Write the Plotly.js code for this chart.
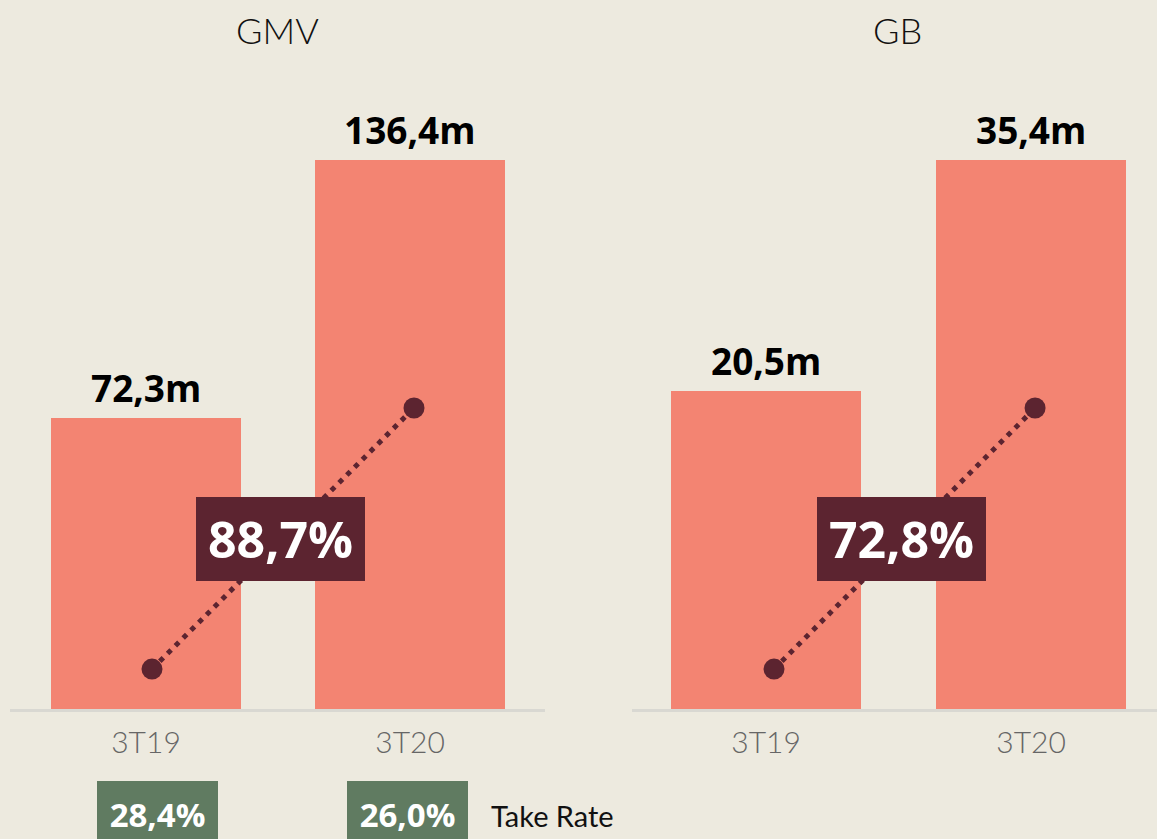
<!DOCTYPE html>
<html>
<head>
<meta charset="utf-8">
<script src="https://cdn.plot.ly/plotly-3.0.1.min.js"></script>
<style>html,body{margin:0;padding:0;background:#edeadf;}#chart{width:1157px;height:839px;}</style>
</head>
<body>
<div id="chart"></div>
<script>
// ---- data ----
const categories = ['3T19', '3T20'];
const gmvValues = [72.3, 136.4];
const gbValues = [20.5, 35.4];
const growthLabels = ['88,7%', '72,8%'];   // GMV growth, GB growth
const takeRateLabels = ['28,4%', '26,0%'];
const trendValues = [0, 1];                 // decorative growth line (start, end)
const panelTitles = ['GMV', 'GB'];

// ---- styles ----
const BG = '#edeadf';
const BAR = '#f38472';
const DARK = '#5c2430';
const GREEN = '#607b61';
const W = 1157, H = 839;
const py = v => (H - v) / H;   // pixel y -> paper
const px = v => v / W;         // pixel x -> paper
const boldFont = {family: 'Open Sans, Arial, sans-serif', weight: 700};
const lightFont = 'Lato, Open Sans, sans-serif';

const yDomain = [py(709), py(60)];

const traces = [
  {type: 'bar', x: categories, y: gmvValues, xaxis: 'x', yaxis: 'y',
   marker: {color: BAR}, width: 0.72, hoverinfo: 'skip'},
  {type: 'bar', x: categories, y: gbValues, xaxis: 'x2', yaxis: 'y2',
   marker: {color: BAR}, width: 0.717, hoverinfo: 'skip'},
  {type: 'scatter', mode: 'lines+markers', x: categories, y: trendValues, xaxis: 'x3', yaxis: 'y3',
   line: {color: DARK, width: 5, dash: '5px,6px'}, marker: {color: DARK, size: 21}, hoverinfo: 'skip'},
  {type: 'scatter', mode: 'lines+markers', x: categories, y: trendValues, xaxis: 'x4', yaxis: 'y4',
   line: {color: DARK, width: 5, dash: '5px,6px'}, marker: {color: DARK, size: 21}, hoverinfo: 'skip'}
];

const catAxis = (domain, range) => ({
  domain: domain, range: range, type: 'category', categoryarray: categories,
  showline: true, linecolor: '#d9d8d2', linewidth: 3, showgrid: false, zeroline: false,
  ticks: '', ticklabelstandoff: 5,
  tickfont: {family: lightFont, size: 30, color: '#666666', weight: 300},
  fixedrange: true
});
const hiddenCat = (over, domain, range, anchor) => ({
  overlaying: over, anchor: anchor, domain: domain, range: range, type: 'category',
  categoryarray: categories, visible: false, fixedrange: true
});
const valAxis = (domain, range, anchor) => ({
  domain: domain, range: range, anchor: anchor, visible: false, showgrid: false,
  zeroline: false, fixedrange: true
});

const leftDomain = [px(10), px(545)];
const rightDomain = [px(632), 1];

const annotations = [];
// panel titles
[[panelTitles[0], 277.5], [panelTitles[1], 897]].forEach(([t, cx]) => {
  annotations.push({text: t, xref: 'paper', yref: 'paper', x: px(cx), y: py(30),
    xanchor: 'center', yanchor: 'middle', showarrow: false,
    font: {family: lightFont, size: 36, color: '#111111', weight: 300}});
});
// bar value labels
[[gmvValues, 'x', 'y'], [gbValues, 'x2', 'y2']].forEach(([vals, xr, yr]) => {
  vals.forEach((v, i) => {
    annotations.push({text: v.toFixed(1).replace('.', ',') + 'm', xref: xr, yref: yr,
      x: categories[i], y: v, xanchor: 'center', yanchor: 'bottom', yshift: 3, showarrow: false,
      font: Object.assign({size: 37, color: '#000000'}, boldFont)});
  });
});
// growth boxes
[['x', 0.51], ['x2', 0.51]].forEach(([xr, xv], i) => {
  annotations.push({text: growthLabels[i], xref: xr, yref: 'paper', x: xv, y: py(539),
    xanchor: 'center', yanchor: 'middle', showarrow: false, width: 169, height: 84,
    bgcolor: DARK, borderpad: 0, borderwidth: 0,
    font: Object.assign({size: 50, color: '#ffffff'}, boldFont)});
});
// take rate boxes
[157.5, 407.5].forEach((cx, i) => {
  annotations.push({text: takeRateLabels[i], xref: 'paper', yref: 'paper', x: px(cx), y: py(781),
    xanchor: 'center', yanchor: 'top', showarrow: false, width: 121, height: 66,
    bgcolor: GREEN, borderpad: 0, borderwidth: 0,
    font: Object.assign({size: 33, color: '#ffffff'}, boldFont)});
});
annotations.push({text: 'Take Rate', xref: 'paper', yref: 'paper', x: px(489), y: py(815),
  xanchor: 'left', yanchor: 'middle', showarrow: false,
  font: {family: lightFont, size: 29, color: '#111111'}});

const layout = {
  width: W, height: H,
  margin: {l: 0, r: 0, t: 0, b: 0, pad: 0},
  paper_bgcolor: BG, plot_bgcolor: 'rgba(0,0,0,0)',
  showlegend: false, separators: ', ',
  bargap: 0,
  xaxis: Object.assign(catAxis(leftDomain, [-0.515, 1.511]), {anchor: 'y'}),
  yaxis: valAxis(yDomain, [0, 649 / 4.025], 'x'),
  xaxis2: Object.assign(catAxis(rightDomain, [-0.506, 1.475]), {anchor: 'y2'}),
  yaxis2: valAxis(yDomain, [0, 649 / 15.51], 'x2'),
  xaxis3: hiddenCat('x', leftDomain, [-0.542, 1.5], 'y3'),
  yaxis3: Object.assign(valAxis(yDomain, [-0.153, 2.333], 'x3'), {overlaying: 'y'}),
  xaxis4: hiddenCat('x2', rightDomain, [-0.544, 1.467], 'y4'),
  yaxis4: Object.assign(valAxis(yDomain, [-0.153, 2.333], 'x4'), {overlaying: 'y2'}),
  annotations: annotations
};

Plotly.newPlot('chart', traces, layout, {displayModeBar: false, staticPlot: true});
</script>
</body>
</html>
